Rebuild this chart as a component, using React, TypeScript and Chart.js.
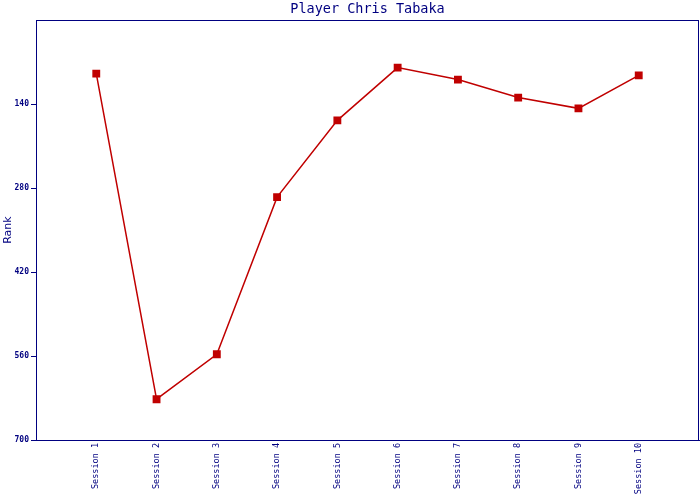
import React, { useEffect, useRef } from "react";
import { Chart, registerables } from "chart.js";

Chart.register(...registerables);

const sessions = ["Session 1", "Session 2", "Session 3", "Session 4", "Session 5", "Session 6", "Session 7", "Session 8", "Session 9", "Session 10"];
const ranks = [89, 632, 557, 295, 167, 79, 99, 129, 147, 92];
const yTicks = [140, 280, 420, 560, 700];

const NAVY = "#000080";
const RED = "#C00000";

const borderPlugin = {
  id: "frame",
  afterDraw(chart: any) {
    const { ctx, chartArea } = chart;
    ctx.save();
    ctx.strokeStyle = NAVY;
    ctx.lineWidth = 1;
    ctx.strokeRect(Math.round(chartArea.left) + 0.5, Math.round(chartArea.top) + 0.5, Math.round(chartArea.right - chartArea.left) - 1, Math.round(chartArea.bottom - chartArea.top));
    ctx.restore();
  },
};

export default function App() {
  const ref = useRef<HTMLCanvasElement>(null);
  useEffect(() => {
    document.body.style.margin = "0";
    const labels = ["", ...sessions, ""];
    const data = [null, ...ranks, null];
    const chart = new Chart(ref.current!, {
      type: "line",
      data: {
        labels,
        datasets: [
          {
            data,
            borderColor: RED,
            backgroundColor: RED,
            borderWidth: 1.5,
            pointStyle: "rect",
            pointRadius: 4.5,
            pointHoverRadius: 4.5,
            tension: 0,
            spanGaps: false,
          },
        ],
      },
      options: {
        responsive: false,
        animation: false,
        layout: { autoPadding: false, padding: { left: 0, right: 1, top: 0, bottom: 0 } },
        plugins: {
          legend: { display: false },
          tooltip: { enabled: false },
          title: {
            display: true,
            fullSize: false,
            text: "Player Chris Tabaka",
            color: NAVY,
            font: { family: "DejaVu Sans Mono", size: 13.5, weight: "normal" },
            padding: { top: 1, bottom: 3 },
          },
        },
        scales: {
          x: {
            type: "category",
            offset: false,
            grid: { display: false, drawTicks: false },
            border: { display: true, color: NAVY },
            ticks: {
              color: NAVY,
              font: { family: "DejaVu Sans Mono", size: 8.5 },
              minRotation: 90,
              maxRotation: 90,
              autoSkip: false,
              padding: 3,
            },
            afterFit(scale: any) {
              scale.height = 60;
              scale.paddingLeft = 0;
              scale.paddingRight = 0;
            },
          },
          y: {
            type: "linear",
            reverse: true,
            min: 0,
            max: 700,
            afterBuildTicks(scale: any) {
              scale.ticks = yTicks.map((v) => ({ value: v }));
            },
            grid: { drawOnChartArea: false, drawTicks: true, tickLength: 5, color: NAVY },
            border: { display: true, color: NAVY },
            ticks: {
              color: NAVY,
              font: { family: "DejaVu Sans Mono", size: 8, weight: "bold" },
              padding: 2,
            },
            title: {
              display: true,
              text: "Rank",
              color: NAVY,
              font: { family: "DejaVu Sans", size: 11 },
              padding: { top: 2, bottom: 0 },
            },
            afterFit(scale: any) {
              scale.width = 36;
            },
          },
        },
      },
      plugins: [borderPlugin],
    });
    return () => chart.destroy();
  }, []);
  return <canvas ref={ref} width={700} height={500} style={{ display: "block" }} />;
}
